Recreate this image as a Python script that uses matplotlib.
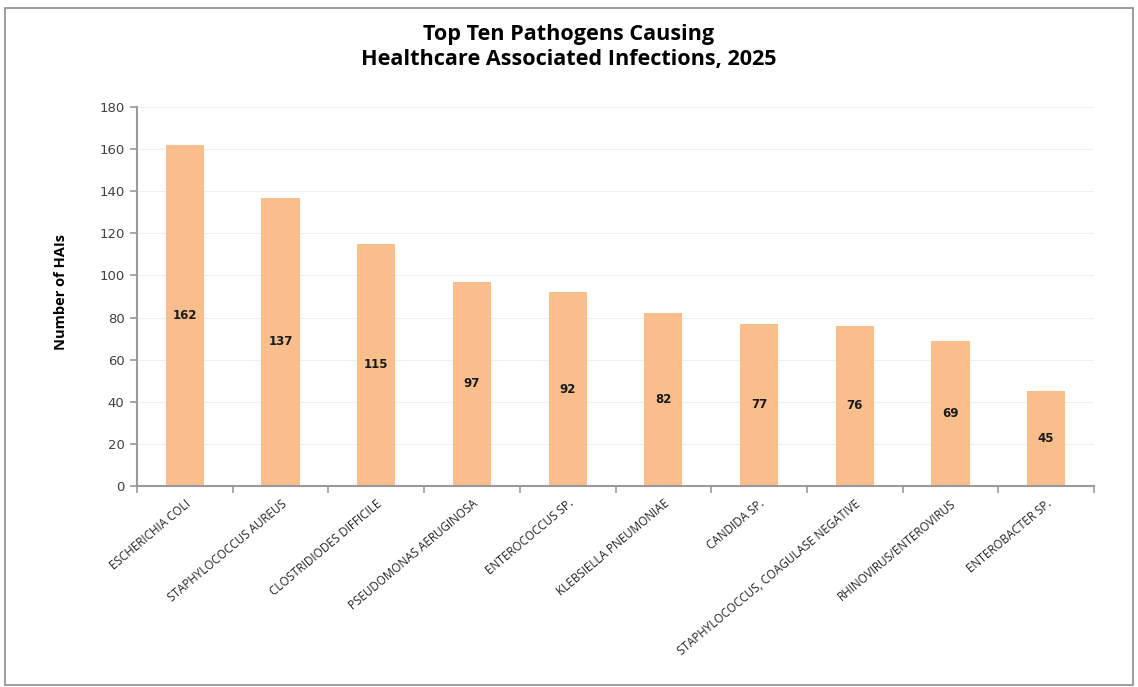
import matplotlib.pyplot as plt
from matplotlib.patches import Rectangle
from matplotlib.ticker import FixedLocator

# Pathogen counts for 2025
pathogens = [
    "ESCHERICHIA COLI",
    "STAPHYLOCOCCUS AUREUS",
    "CLOSTRIDIODES DIFFICILE",
    "PSEUDOMONAS AERUGINOSA",
    "ENTEROCOCCUS SP.",
    "KLEBSIELLA PNEUMONIAE",
    "CANDIDA SP.",
    "STAPHYLOCOCCUS, COAGULASE NEGATIVE",
    "RHINOVIRUS/ENTEROVIRUS",
    "ENTEROBACTER SP.",
]
hai_counts = [162, 137, 115, 97, 92, 82, 77, 76, 69, 45]
y_ticks = [0, 20, 40, 60, 80, 100, 120, 140, 160, 180]

bar_color = "#F9BE8C"
axis_color = "#9a9a9a"
label_font = ["Open Sans", "DejaVu Sans"]
narrow_font = ["Liberation Sans Narrow", "Open Sans", "DejaVu Sans"]

fig = plt.figure(figsize=(11.38, 6.87), dpi=100)
ax = fig.add_axes([137 / 1138, 1 - 486 / 687, (1094 - 137) / 1138, (486 - 107) / 687])

x = list(range(len(pathogens)))
bars = ax.bar(x, hai_counts, width=0.4, color=bar_color, zorder=2)

# value labels sit halfway up each bar
for rect, val in zip(bars, hai_counts):
    ax.text(rect.get_x() + rect.get_width() / 2, val / 2, str(val),
            ha="center", va="center", fontsize=8.5, fontweight="bold",
            color="#1a1a1a", zorder=3)

ax.set_xlim(-0.5, len(pathogens) - 0.5)
ax.set_ylim(0, 180)
ax.set_yticks(y_ticks)
ax.set_yticklabels([str(v) for v in y_ticks], fontsize=9.5, color="#404040")
ax.yaxis.grid(True, color="#eeeeee", linewidth=0.8, zorder=0)

# category labels on the majors, boundary ticks on the minors
ax.set_xticks(x)
ax.set_xticklabels(pathogens, rotation=40, ha="right", rotation_mode="anchor",
                   fontsize=8.4, family=label_font, color="#222222")
ax.xaxis.set_minor_locator(FixedLocator([i - 0.5 for i in range(len(pathogens) + 1)]))
ax.tick_params(axis="x", which="major", length=0, pad=8)
ax.tick_params(axis="x", which="minor", length=5, color=axis_color, width=1.2)
ax.tick_params(axis="y", length=5, color=axis_color, width=1.2, pad=4)

for side in ["top", "right"]:
    ax.spines[side].set_visible(False)
for side in ["left", "bottom"]:
    ax.spines[side].set_color(axis_color)
    ax.spines[side].set_linewidth(1.5)

fig.text(61 / 1138, 1 - 292 / 687, "Number of HAIs", rotation=90,
         ha="center", va="center", fontsize=10.5, fontweight="bold",
         family=narrow_font)

fig.text(0.5, 1 - 47 / 687, "Top Ten Pathogens Causing\nHealthcare Associated Infections, 2025",
         ha="center", va="center", fontsize=15.6, fontweight="bold",
         family=label_font, linespacing=1.2)

# frame around the whole chart
fig.patches.append(Rectangle((5 / 1138, 2 / 687), 1128 / 1138, 677 / 687,
                             transform=fig.transFigure, fill=False,
                             edgecolor="#8c8c8c", linewidth=1.2))

fig.savefig("out.png", dpi=100)
